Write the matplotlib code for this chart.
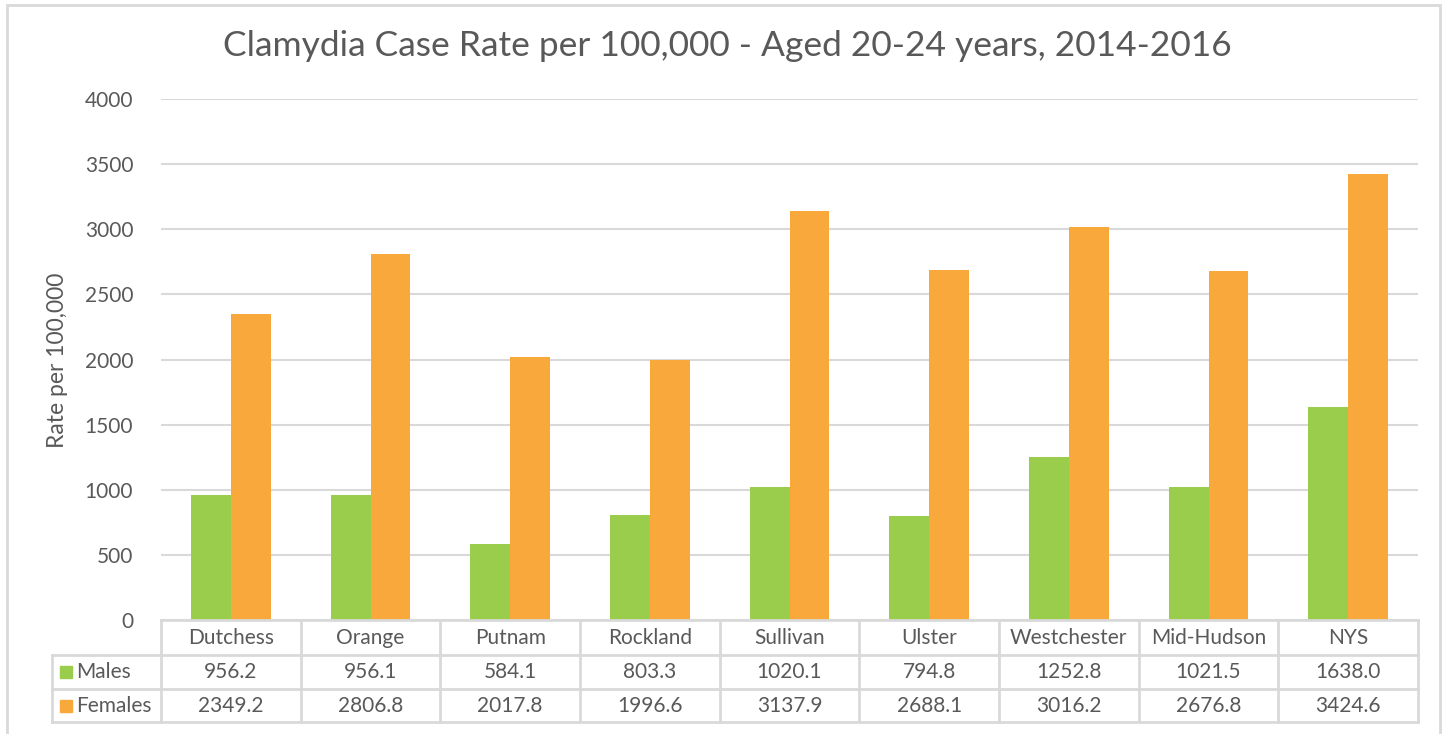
import matplotlib
matplotlib.use("Agg")
import matplotlib.pyplot as plt
from matplotlib.lines import Line2D
from matplotlib.patches import Rectangle
import numpy as np

categories = ["Dutchess", "Orange", "Putnam", "Rockland", "Sullivan", "Ulster",
              "Westchester", "Mid-Hudson", "NYS"]
males = [956.2, 956.1, 584.1, 803.3, 1020.1, 794.8, 1252.8, 1021.5, 1638.0]
females = [2349.2, 2806.8, 2017.8, 1996.6, 3137.9, 2688.1, 3016.2, 2676.8, 3424.6]
series_names = ["Males", "Females"]
yticks = [0, 500, 1000, 1500, 2000, 2500, 3000, 3500, 4000]
title = "Clamydia Case Rate per 100,000 - Aged 20-24 years, 2014-2016"
ylabel = "Rate per 100,000"

GREEN = "#9BCD4C"
ORANGE = "#F9A83C"
GRID = "#D9D9D9"
TXT = "#595959"
FONT = ["Lato", "DejaVu Sans"]
plt.rcParams["font.family"] = FONT

W, H = 1453, 734
fig = plt.figure(figsize=(W / 100, H / 100), dpi=100)
fig.patch.set_facecolor("white")

def fx(px):
    return px / W

def fy(py):
    return 1 - py / H

L, R, T, B = 161, 1418, 99, 620
ax = fig.add_axes([fx(L), fy(B), fx(R) - fx(L), fy(T) - fy(B)])

n = len(categories)
x = np.arange(n)
bw = 0.285
ax.bar(x - bw / 2, males, bw, color=GREEN, zorder=3)
ax.bar(x + bw / 2, females, bw, color=ORANGE, zorder=3)
ax.set_xlim(-0.5, n - 0.5)
ax.set_ylim(0, 4000)
ax.set_yticks(yticks)
ax.set_yticklabels([str(v) for v in yticks], fontsize=15, color=TXT)
ax.tick_params(axis="y", length=0, pad=20)
ax.set_xticks([])
ax.grid(axis="y", color=GRID, linewidth=1.5, zorder=0)
for s in ax.spines.values():
    s.set_visible(False)

fig.text(fx(57), fy(360), ylabel, rotation=90, ha="center", va="center",
         fontsize=16.5, color=TXT)
fig.text(fx(727), fy(46), title, ha="center", va="center", fontsize=25.5, color=TXT)

# Data table drawn below the axes
colw = (R - L) / n
row_y = [620, 655, 689, 722]
lw = 2.0

def hline(x0, x1, y):
    fig.add_artist(Line2D([fx(x0), fx(x1)], [fy(y), fy(y)], color=GRID, lw=lw))

def vline(xp, y0, y1):
    fig.add_artist(Line2D([fx(xp), fx(xp)], [fy(y0), fy(y1)], color=GRID, lw=lw))

label_left = 52
hline(L, R, row_y[0])
for yy in row_y[1:]:
    hline(label_left, R, yy)
vline(label_left, row_y[1], row_y[3])
for i in range(n + 1):
    vline(L + i * colw, row_y[0], row_y[3])

fs = 15
for i, c in enumerate(categories):
    cx = L + (i + 0.5) * colw
    fig.text(fx(cx), fy((row_y[0] + row_y[1]) / 2), c, ha="center", va="center",
             fontsize=fs, color=TXT)
    fig.text(fx(cx), fy((row_y[1] + row_y[2]) / 2), f"{males[i]:.1f}", ha="center",
             va="center", fontsize=fs, color=TXT)
    fig.text(fx(cx), fy((row_y[2] + row_y[3]) / 2), f"{females[i]:.1f}", ha="center",
             va="center", fontsize=fs, color=TXT)

for r, (name, col) in enumerate(zip(series_names, [GREEN, ORANGE])):
    cy = (row_y[r + 1] + row_y[r + 2]) / 2
    fig.add_artist(Rectangle((fx(60), fy(cy + 6)), fx(12), fy(0) - fy(12),
                             color=col, transform=fig.transFigure))
    fig.text(fx(76), fy(cy), name, ha="left", va="center", fontsize=fs, color=TXT)

# outer chart border
fig.add_artist(Rectangle((fx(7), fy(740)), fx(1440 - 7), fy(5) - fy(740),
                         fill=False, edgecolor=GRID, lw=2, transform=fig.transFigure))

fig.savefig("out.png", dpi=100)
